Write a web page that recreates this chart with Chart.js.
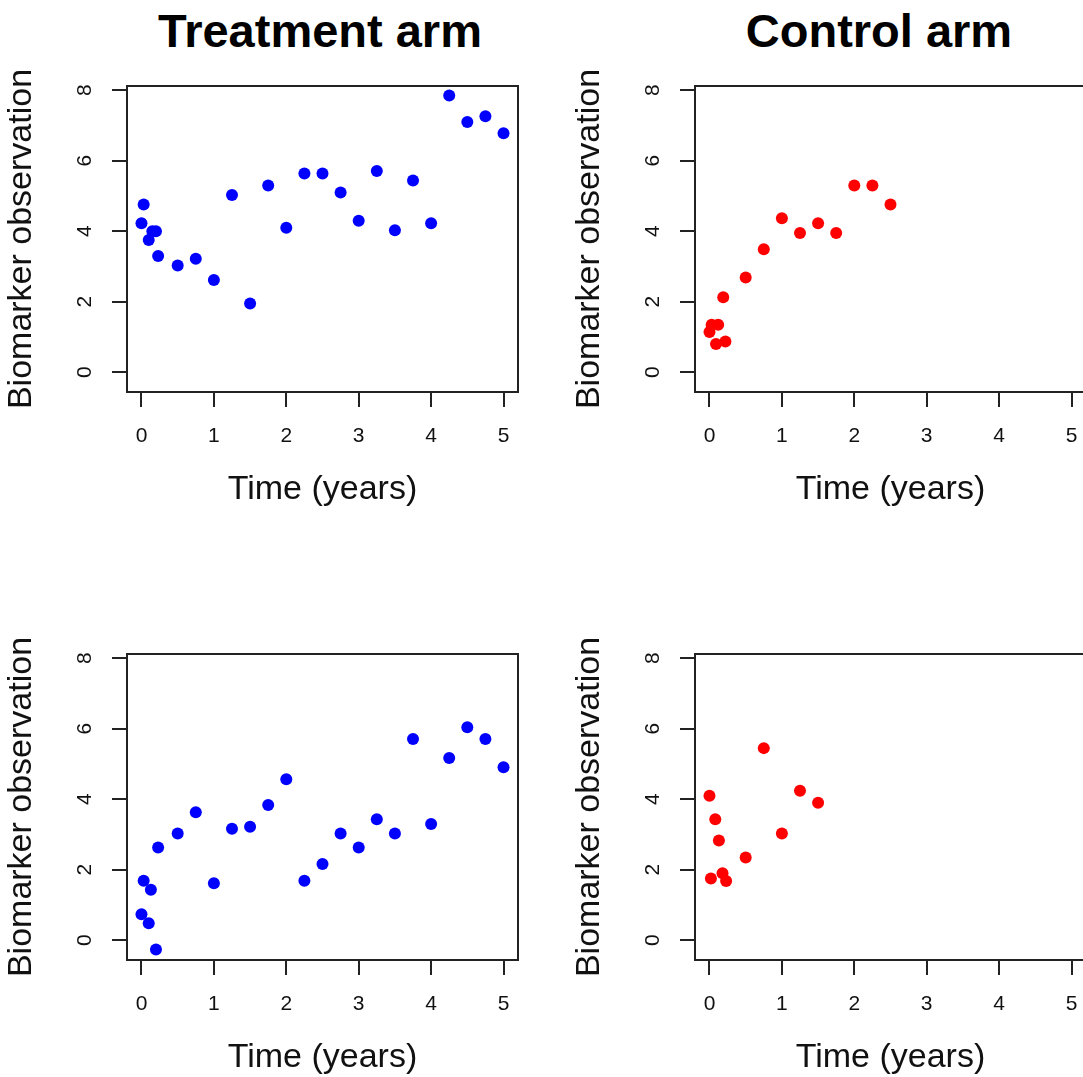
<!DOCTYPE html>
<html lang="en">
<head>
  <meta charset="UTF-8" />
  <title>Biomarker observations by arm</title>
  <script src="https://cdn.jsdelivr.net/npm/chart.js"></script>
  <style>
    body {
      margin: 0;
      padding: 0;
      background: #fff;
      overflow: hidden;
    }
    #page {
      position: relative;
      width: 1083px;
      height: 1077px;
      overflow: hidden;
    }
    #page canvas {
      position: absolute;
    }
    .arm-title {
      position: absolute;
      top: 7px;
      width: 392px;
      font-family: "Liberation Sans", Arial, sans-serif;
      font-weight: bold;
      font-size: 47px;
      line-height: 47px;
      text-align: center;
      white-space: nowrap;
      color: #000;
    }
  </style>
</head>
<body>

<div id="page">
  <div class="arm-title" style="left:124px;">Treatment arm</div>
  <div class="arm-title" style="left:683px;">Control arm</div>
  <canvas id="trt1" width="540" height="522" style="left:0;top:0;"></canvas>
  <canvas id="ctl1" width="540" height="522" style="left:568px;top:0;"></canvas>
  <canvas id="trt2" width="540" height="522" style="left:0;top:568px;"></canvas>
  <canvas id="ctl2" width="540" height="522" style="left:568px;top:568px;"></canvas>
</div>

<script>
  // tick labels
  const xTicks = [0, 1, 2, 3, 4, 5];
  const yTicks = [0, 2, 4, 6, 8];

  // top row - treatment arm
  const trt1Time  = [0, 0.03, 0.1, 0.15, 0.2, 0.23, 0.5, 0.75, 1, 1.25, 1.5, 1.75, 2, 2.25, 2.5, 2.75, 3, 3.25, 3.5, 3.75, 4, 4.25, 4.5, 4.75, 5];
  const trt1Value = [4.23, 4.76, 3.75, 4.0, 4.0, 3.3, 3.03, 3.22, 2.62, 5.03, 1.95, 5.3, 4.1, 5.64, 5.64, 5.1, 4.3, 5.71, 4.03, 5.44, 4.23, 7.85, 7.1, 7.26, 6.78];

  // top row - control arm
  const ctl1Time  = [0, 0.03, 0.12, 0.09, 0.19, 0.22, 0.5, 0.75, 1, 1.25, 1.5, 1.75, 2, 2.25, 2.5];
  const ctl1Value = [1.14, 1.35, 1.35, 0.8, 2.13, 0.87, 2.69, 3.49, 4.37, 3.95, 4.23, 3.95, 5.3, 5.3, 4.76];

  // bottom row - treatment arm
  const trt2Time  = [0, 0.03, 0.1, 0.13, 0.2, 0.23, 0.5, 0.75, 1, 1.25, 1.5, 1.75, 2, 2.25, 2.5, 2.75, 3, 3.25, 3.5, 3.75, 4, 4.25, 4.5, 4.75, 5];
  const trt2Value = [0.74, 1.69, 0.48, 1.43, -0.26, 2.63, 3.03, 3.63, 1.62, 3.16, 3.22, 3.84, 4.57, 1.69, 2.16, 3.03, 2.63, 3.43, 3.03, 5.71, 3.3, 5.17, 6.04, 5.71, 4.91];

  // bottom row - control arm
  const ctl2Time  = [0, 0.02, 0.08, 0.13, 0.18, 0.23, 0.5, 0.75, 1, 1.25, 1.5];
  const ctl2Value = [4.1, 1.75, 3.43, 2.83, 1.9, 1.68, 2.35, 5.45, 3.03, 4.24, 3.9];

  const FONT = '"Liberation Sans", Arial, sans-serif';
  Chart.defaults.font.family = FONT;
  Chart.defaults.color = '#111';

  // R style box round the plot region
  const boxPlugin = {
    id: 'box',
    afterDraw(chart) {
      const a = chart.chartArea;
      const ctx = chart.ctx;
      ctx.save();
      ctx.strokeStyle = '#222';
      ctx.lineWidth = 2;
      ctx.strokeRect(a.left, a.top, a.right - a.left, a.bottom - a.top);
      ctx.restore();
    }
  };

  function makePanel(id, times, values, colour) {
    const points = times.map((t, i) => ({ x: t, y: values[i] }));
    return new Chart(document.getElementById(id), {
      type: 'scatter',
      data: {
        datasets: [{
          data: points,
          pointRadius: 6,
          pointHoverRadius: 6,
          pointBackgroundColor: colour,
          pointBorderWidth: 0,
          showLine: false
        }]
      },
      options: {
        responsive: false,
        animation: false,
        layout: { padding: { top: 86, right: 22, bottom: 0, left: 0 } },
        plugins: {
          legend: { display: false },
          tooltip: { enabled: false }
        },
        scales: {
          x: {
            type: 'linear',
            position: 'bottom',
            min: -0.2,
            max: 5.2,
            afterBuildTicks: s => { s.ticks = xTicks.map(v => ({ value: v })); },
            afterFit: s => { s.height = 130; },
            border: { display: false },
            grid: { display: true, drawOnChartArea: false, drawTicks: true, tickLength: 15, color: '#222', lineWidth: 2 },
            ticks: { font: { size: 21, lineHeight: 1 }, color: '#111', padding: 19, maxRotation: 0, autoSkip: false },
            title: { display: true, text: 'Time (years)', font: { size: 34, lineHeight: 1 }, color: '#111', padding: { top: 0, bottom: 15 } }
          },
          y: {
            type: 'linear',
            position: 'left',
            min: -0.56,
            max: 8.12,
            afterBuildTicks: s => { s.ticks = yTicks.map(v => ({ value: v })); },
            afterFit: s => { s.width = 127; },
            border: { display: false },
            grid: { display: true, drawOnChartArea: false, drawTicks: true, tickLength: 15, color: '#222', lineWidth: 2 },
            ticks: { font: { size: 21, lineHeight: 1 }, color: '#111', padding: 21, minRotation: 90, maxRotation: 90, crossAlign: 'center', autoSkip: false },
            title: { display: true, text: 'Biomarker observation', font: { size: 34, lineHeight: 1 }, color: '#111', padding: { top: 5, bottom: 0 } }
          }
        }
      },
      plugins: [boxPlugin]
    });
  }

  makePanel('trt1', trt1Time, trt1Value, '#0000ff');
  makePanel('ctl1', ctl1Time, ctl1Value, '#ff0000');
  makePanel('trt2', trt2Time, trt2Value, '#0000ff');
  makePanel('ctl2', ctl2Time, ctl2Value, '#ff0000');
</script>

</body>
</html>
